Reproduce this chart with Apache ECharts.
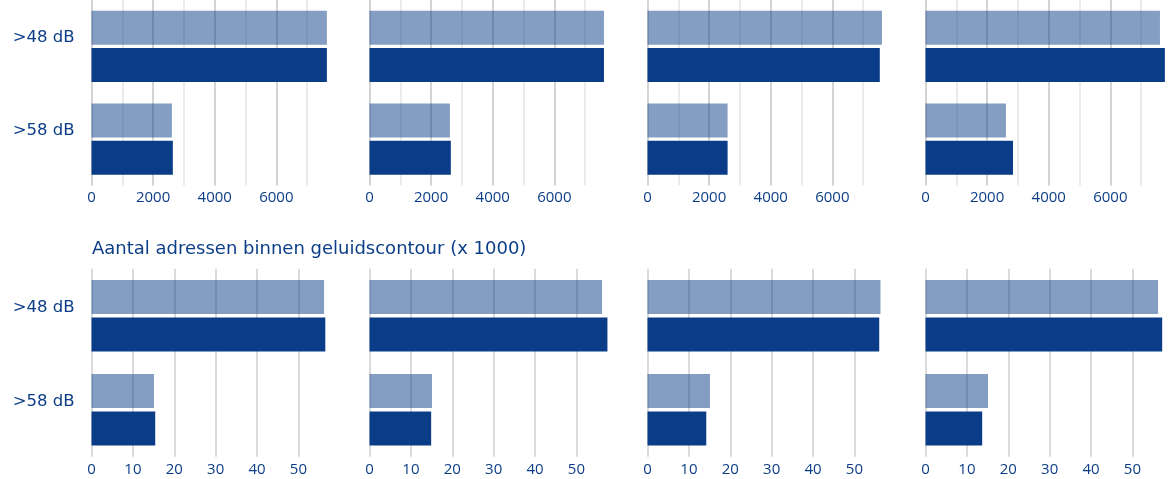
<!DOCTYPE html>
<html>
<head>
<meta charset="utf-8">
<script src="https://cdn.jsdelivr.net/npm/echarts@6/dist/echarts.min.js"></script>
<style>
  html, body { margin: 0; padding: 0; background: #ffffff; }
  #chart { width: 1176px; height: 479px; }
</style>
</head>
<body>
<div id="chart"></div>
<script>
// Noise-contour categories (shared by every panel)
const categories = ['>48 dB', '>58 dB'];

// Top row: surface per contour, four scenarios (light = reference, dark = variant)
const areaLight = [
  [7640, 2610],
  [7610, 2610],
  [7610, 2600],
  [7610, 2610]
];
const areaDark = [
  [7640, 2640],
  [7610, 2640],
  [7540, 2600],
  [7770, 2840]
];

// Bottom row: number of addresses inside the contour (x 1000)
const addrLight = [
  [56.2, 15.1],
  [56.2, 15.1],
  [56.3, 15.1],
  [56.2, 15.1]
];
const addrDark = [
  [56.5, 15.4],
  [57.5, 14.9],
  [56.0, 14.2],
  [57.2, 13.7]
];

const bottomTitle = 'Aantal adressen binnen geluidscontour (x 1000)';

const TEXT = '#0c3e87';
const DARK = '#0a3c87';
const TICK_FONT = '"Open Sans", "Noto Sans", sans-serif';
const LABEL_FONT = '"DejaVu Sans", "Open Sans", sans-serif';

const rows = [
  { light: areaLight, dark: areaDark, top: -2.5, max: 7790, interval: 1000, labelStep: 2000,
    lineColors: ['#d4d4d4', '#ebebeb'] },
  { light: addrLight, dark: addrDark, top: 268.8, max: 58, interval: 10, labelStep: 10,
    lineColors: ['#dbdbdb'] }
];

const grid = [], xAxis = [], yAxis = [], series = [];
rows.forEach((row, r) => {
  for (let c = 0; c < 4; c++) {
    const idx = grid.length;
    grid.push({ left: 91.5 + 278 * c, top: row.top, width: 240, height: 188 });
    xAxis.push({
      type: 'value', gridIndex: idx, min: 0, max: row.max, interval: row.interval,
      axisLine: { show: false }, axisTick: { show: false },
      axisLabel: {
        color: TEXT, fontFamily: TICK_FONT, fontSize: 15, margin: 5, showMaxLabel: false,
        formatter: v => (v % row.labelStep === 0 ? String(v) : '')
      },
      splitLine: { show: true, showMaxLine: false, lineStyle: { color: row.lineColors, width: 2 } }
    });
    yAxis.push({
      type: 'category', gridIndex: idx, data: categories, inverse: true,
      axisLine: { show: false }, axisTick: { show: false }, splitLine: { show: false },
      axisLabel: {
        show: c === 0, color: TEXT, fontFamily: LABEL_FONT, fontSize: 16.5, margin: 17,
        verticalAlign: 'bottom'
      }
    });
    series.push({
      type: 'bar', xAxisIndex: idx, yAxisIndex: idx, data: row.light[c],
      barWidth: 34, barGap: '10%',
      itemStyle: { color: DARK, opacity: 0.5 }
    });
    series.push({
      type: 'bar', xAxisIndex: idx, yAxisIndex: idx, data: row.dark[c],
      barWidth: 34, barGap: '10%',
      itemStyle: { color: DARK }
    });
  }
});

const chart = echarts.init(document.getElementById('chart'), null, { renderer: 'canvas' });
chart.setOption({
  animation: false,
  backgroundColor: '#ffffff',
  title: {
    text: bottomTitle, left: 92, top: 240, padding: 0,
    textStyle: { color: TEXT, fontFamily: LABEL_FONT, fontSize: 18, fontWeight: 'normal' }
  },
  grid, xAxis, yAxis, series
});
</script>
</body>
</html>
